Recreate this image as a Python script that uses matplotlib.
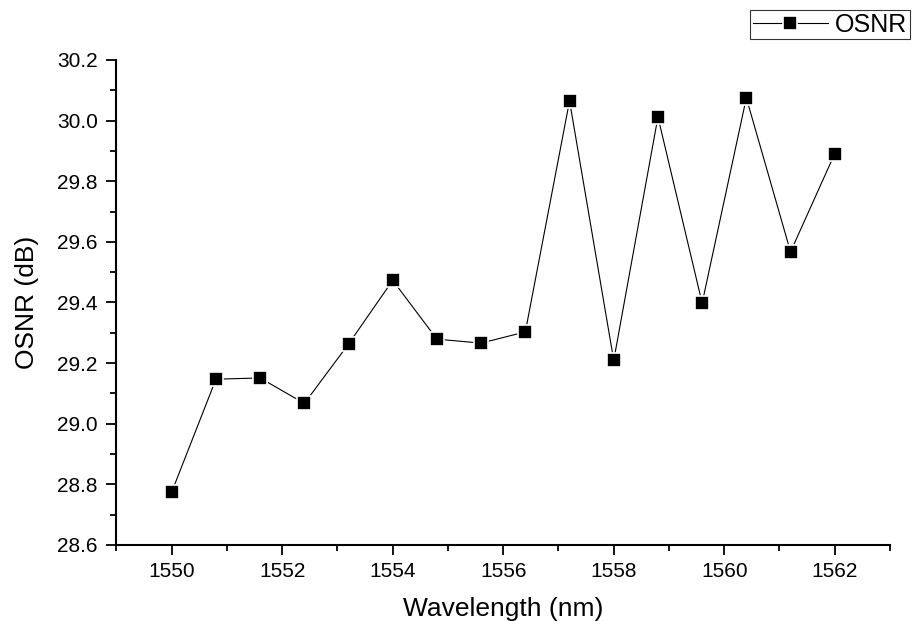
import matplotlib
matplotlib.use("Agg")
import matplotlib.pyplot as plt
from matplotlib.ticker import MultipleLocator, FormatStrFormatter

plt.rcParams['font.family'] = ['Liberation Sans', 'DejaVu Sans']

wavelength = [1550.0, 1550.8, 1551.6, 1552.4, 1553.2, 1554.0, 1554.8, 1555.6,
              1556.4, 1557.2, 1558.0, 1558.8, 1559.6, 1560.4, 1561.2, 1562.0]
osnr = [28.775, 29.147, 29.151, 29.067, 29.263, 29.473, 29.279, 29.266,
        29.303, 30.065, 29.209, 30.012, 29.398, 30.075, 29.567, 29.891]

fig = plt.figure(figsize=(9.13, 6.21), dpi=100)
ax = fig.add_axes([0.1276, 0.1224, 0.8472, 0.781])

# square markers with a thin white rim so the connecting line stops short of them
ax.plot(wavelength, osnr, color='black', linewidth=0.8,
        marker='s', markersize=10.6, markerfacecolor='black',
        markeredgecolor='white', markeredgewidth=1.2, label='OSNR')

ax.set_xlim(1549, 1563)
ax.set_ylim(28.6, 30.2)
ax.xaxis.set_major_locator(MultipleLocator(2))
ax.xaxis.set_minor_locator(MultipleLocator(1))
ax.yaxis.set_major_locator(MultipleLocator(0.2))
ax.yaxis.set_minor_locator(MultipleLocator(0.1))
ax.yaxis.set_major_formatter(FormatStrFormatter('%.1f'))

for side in ('top', 'right'):
    ax.spines[side].set_visible(False)
for side in ('left', 'bottom'):
    ax.spines[side].set_linewidth(1.5)

ax.tick_params(which='major', direction='out', length=7.5, width=1.3,
               labelsize=15)
ax.tick_params(axis='y', which='major', pad=6)
ax.tick_params(axis='x', which='major', pad=5)
ax.tick_params(which='minor', direction='out', length=4, width=1.3)

ax.set_xlabel('Wavelength (nm)', fontsize=19, labelpad=11)
ax.set_ylabel('OSNR (dB)', fontsize=19, labelpad=13)

leg = fig.legend(loc='upper right', bbox_to_anchor=(910 / 913, 1 - 10 / 621),
                 fontsize=18, frameon=True, fancybox=False, handlelength=3.0,
                 handletextpad=0.3, borderpad=0.1, borderaxespad=0)
leg.get_frame().set_edgecolor('black')
leg.get_frame().set_linewidth(0.8)

fig.savefig('out.png', dpi=100)
